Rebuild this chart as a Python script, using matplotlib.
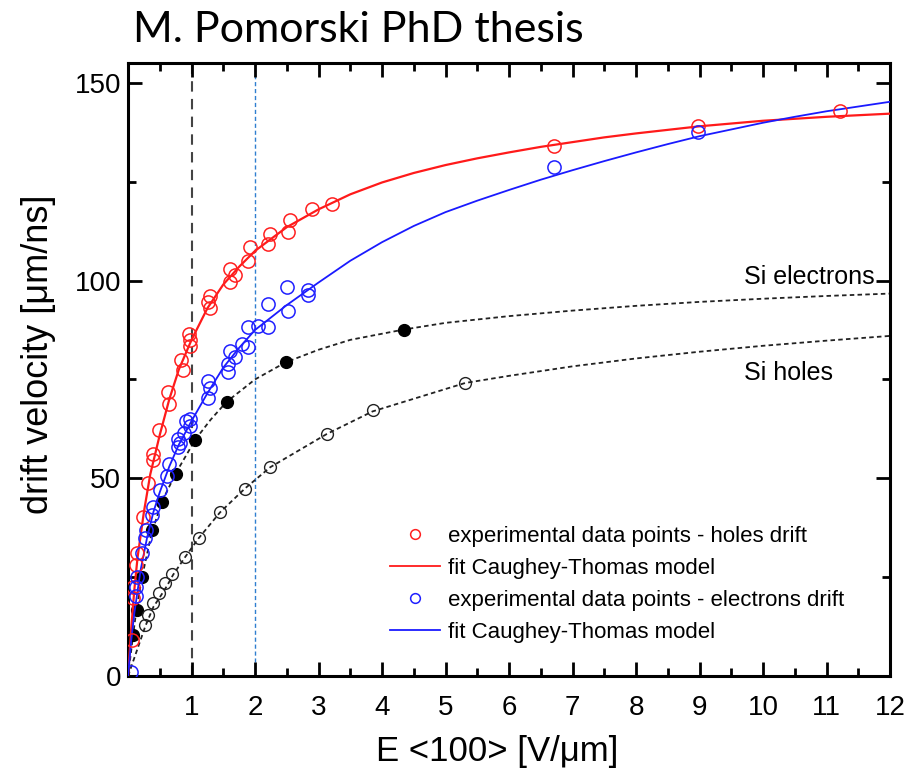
import numpy as np
import matplotlib.pyplot as plt
from matplotlib.ticker import MultipleLocator

# experimental points: holes drift (red)
holes_E = [0.06, 0.08, 0.08, 0.12, 0.14, 0.24, 0.32, 0.40, 0.40, 0.49, 0.63, 0.65,
           0.83, 0.86, 0.96, 0.97, 0.98, 1.26, 1.29, 1.29, 1.60, 1.61, 1.69, 1.89,
           1.92, 2.21, 2.24, 2.52, 2.55, 2.89, 3.21, 6.71, 8.97, 11.21]
holes_v = [9.0, 19.7, 22.5, 28.0, 31.0, 40.2, 48.7, 54.5, 56.2, 62.1, 71.8, 68.9,
           79.8, 77.5, 86.5, 85.0, 83.5, 94.5, 96.2, 93.0, 99.6, 103.0, 101.3, 105.0,
           108.4, 109.3, 111.8, 112.2, 115.2, 118.0, 119.4, 134.1, 139.0, 142.9]

# experimental points: electrons drift (blue)
elec_E = [0.05, 0.12, 0.12, 0.14, 0.22, 0.27, 0.29, 0.37, 0.40, 0.50, 0.62, 0.64,
          0.79, 0.82, 0.79, 0.88, 0.92, 0.98, 0.98, 1.26, 1.29, 1.26, 1.58, 1.58,
          1.69, 1.61, 1.79, 1.89, 1.89, 2.05, 2.21, 2.52, 2.21, 2.84, 2.84, 2.50,
          6.71, 8.97]
elec_v = [1.0, 20.3, 22.6, 25.0, 31.0, 35.0, 36.9, 40.6, 42.8, 47.0, 50.5, 53.7,
          58.0, 58.9, 60.0, 61.4, 64.6, 63.2, 65.0, 70.3, 72.9, 74.7, 76.9, 79.0,
          80.6, 82.3, 84.0, 83.2, 88.2, 88.6, 88.2, 92.4, 94.1, 96.3, 97.5, 98.3,
          128.8, 137.5]

# Caughey-Thomas fits
fit_h_E = [0, 0.05, 0.1, 0.15, 0.25, 0.35, 0.5, 0.65, 0.8, 1.0, 1.25, 1.5, 1.75,
           2.0, 2.5, 3.0, 3.5, 4.0, 4.5, 5.0, 5.5, 6.0, 6.5, 7.0, 7.5, 8.0, 8.5,
           9.0, 9.5, 10.0, 10.5, 11.0, 11.5, 12.0]
fit_h_v = [0, 12, 22, 30, 41.5, 51, 61, 70, 77.5, 85, 93, 99, 103.5,
           107.5, 113.5, 118, 121.8, 124.8, 127.2, 129.2, 130.9, 132.4, 133.8, 135, 136.2,
           137.2, 138.1, 139, 139.7, 140.4, 140.9, 141.4, 141.8, 142.2]
fit_e_E = [0, 0.05, 0.1, 0.2, 0.3, 0.4, 0.5, 0.65, 0.8, 1.0, 1.25, 1.5, 1.75, 2.0,
           2.5, 3.0, 3.5, 4.0, 4.5, 5.0, 5.5, 6.0, 6.5, 7.0, 7.5, 8.0, 8.5, 9.0,
           9.5, 10.0, 10.5, 11.0, 11.5, 12.0]
fit_e_v = [0, 9, 16, 27, 35, 41.5, 46.5, 53, 58.5, 64.5, 71.5, 78, 83, 87.5,
           93.8, 99.5, 105, 109.7, 113.8, 117.3, 120.2, 122.9, 125.5, 127.9, 130.2,
           132.4, 134.5, 136.5, 138.2, 139.9, 141.4, 142.8, 144, 145.2]

# Si reference: electrons (filled) and holes (open)
si_e_E = [0.08, 0.14, 0.22, 0.37, 0.53, 0.76, 1.06, 1.56, 2.48, 4.34]
si_e_v = [10.4, 16.7, 25.1, 36.9, 44.0, 51.2, 59.8, 69.3, 79.3, 87.6]
si_h_E = [0.27, 0.32, 0.40, 0.48, 0.58, 0.69, 0.90, 1.11, 1.45, 1.84, 2.24, 3.13, 3.85, 5.31]
si_h_v = [12.9, 15.4, 18.4, 20.9, 23.4, 25.9, 30.1, 34.8, 41.5, 47.4, 52.9, 61.3, 67.2, 74.1]

si_e_curve_E = [0, 0.08, 0.13, 0.22, 0.37, 0.53, 0.76, 1.06, 1.3, 1.55, 2.0, 2.48, 3.0,
                3.5, 4.34, 5.0, 6.0, 7.0, 8.0, 9.0, 10.0, 11.0, 12.0]
si_e_curve_v = [0, 10.4, 16.5, 25, 36, 44, 51.5, 59.8, 64.8, 69.3, 75, 79.3, 82.5,
                85, 87.6, 89.3, 91, 92.4, 93.6, 94.6, 95.4, 96.1, 96.7]
si_h_curve_E = [0, 0.27, 0.4, 0.5, 0.61, 0.71, 0.9, 1.11, 1.45, 1.84, 2.24, 3.13, 3.85,
                5.31, 6.0, 7.0, 8.0, 9.0, 10.0, 11.0, 12.0]
si_h_curve_v = [0, 12.5, 17.5, 19.9, 22.7, 25.6, 30.1, 34.8, 41.4, 47.4, 52.8, 61.2, 66.9,
                74.1, 75.9, 78.3, 80.3, 82.0, 83.5, 84.8, 86.0]

legend_labels = ['experimental data points - holes drift', 'fit Caughey-Thomas model',
                 'experimental data points - electrons drift', 'fit Caughey-Thomas model']

fig = plt.figure(figsize=(9.12, 7.79), dpi=100)
ax = fig.add_axes([0.1404, 0.1322, 0.8355, 0.7869])

ax.axvline(1, color='#444444', lw=1.5, ls=(0, (5, 3.5)), zorder=1)
ax.axvline(2, color='#2f7fd0', lw=1.0, ls=(0, (3, 2)), zorder=1)

dots = (0, (2.5, 1.8))
ax.plot(si_e_curve_E, si_e_curve_v, color='#222222', lw=1.3, ls=dots, zorder=2)
ax.plot(si_h_curve_E, si_h_curve_v, color='#222222', lw=1.3, ls=dots, zorder=2)
ax.plot(si_e_E, si_e_v, 'o', color='black', ms=8.5, zorder=3)
ax.plot(si_h_E, si_h_v, 'o', mfc='none', mec='#222222', ms=8.5, mew=1.0, zorder=3)

ax.plot(fit_h_E, fit_h_v, color='#ff1a1a', lw=1.6, zorder=4)
ax.plot(fit_e_E, fit_e_v, color='#1a1aff', lw=1.3, zorder=4)
ax.plot(holes_E, holes_v, 'o', mfc='none', mec='#ff2020', ms=9.5, mew=1.1, zorder=5)
ax.plot(elec_E, elec_v, 'o', mfc='none', mec='#2020ff', ms=9.5, mew=1.1, zorder=5)

ax.set_xlim(0, 12)
ax.set_ylim(0, 155)
ax.xaxis.set_minor_locator(MultipleLocator(0.5))
ax.yaxis.set_major_locator(MultipleLocator(50))
ax.yaxis.set_minor_locator(MultipleLocator(25))
ax.set_xticks(range(0, 13))
ax.set_xticklabels([''] + [str(i) for i in range(1, 13)])
ax.tick_params(which='both', direction='in', top=True, right=True, width=2)
ax.tick_params(which='major', length=10)
ax.tick_params(which='minor', length=6)
ax.tick_params(axis='x', pad=14)
ax.tick_params(axis='y', pad=5)
for lab in ax.get_xticklabels() + ax.get_yticklabels():
    lab.set_family('Liberation Sans')
    lab.set_fontsize(20)
for sp in ax.spines.values():
    sp.set_linewidth(2.2)

ax.set_xlabel('E <100> [V/\u03bcm]', fontsize=25, family='Liberation Sans')
ax.xaxis.set_label_coords(0.484, -0.097)
ax.set_ylabel('drift velocity [\u03bcm/ns]', fontsize=26, family='Liberation Sans')
ax.yaxis.set_label_coords(-0.094, 0.525)

ax.text(9.7, 101, 'Si electrons', fontsize=18, family='Liberation Sans', va='center')
ax.text(9.7, 76.5, 'Si holes', fontsize=18, family='Liberation Sans', va='center')

# legend entries
h1, = ax.plot([], [], 'o', mfc='none', mec='#ff2020', ms=7, mew=1.1)
h2, = ax.plot([], [], color='#ff1a1a', lw=1.3)
h3, = ax.plot([], [], 'o', mfc='none', mec='#2020ff', ms=7, mew=1.1)
h4, = ax.plot([], [], color='#1a1aff', lw=1.3)
ax.legend([h1, h2, h3, h4], legend_labels,
          loc='upper left', bbox_to_anchor=(0.344, 0.245), frameon=False,
          borderpad=0, borderaxespad=0,
          prop={'family': 'Liberation Sans', 'size': 16}, handlelength=2.25,
          handletextpad=0.36, labelspacing=0.5)

fig.text(0.146, 0.962, 'M. Pomorski PhD thesis', fontsize=31, family='Lato', va='center')

fig.savefig('out.png', dpi=100)
